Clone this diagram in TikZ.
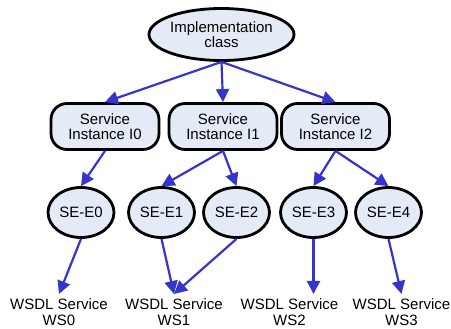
\documentclass[tikz,border=0pt]{standalone}
\usepackage{fontspec}
\setmainfont{Liberation Sans}
\usetikzlibrary{shapes.geometric,arrows.meta}
\definecolor{nodefill}{HTML}{E4EAF6}
\definecolor{linkblue}{HTML}{3535CC}
\begin{document}
\begin{tikzpicture}[x=1pt,y=-1pt,
  every node/.style={font=\fontsize{15}{15.5}\selectfont, align=center},
  nodebox/.style={draw=black, line width=2.8pt, fill=nodefill},
  oval/.style={nodebox, ellipse, inner sep=0pt},
  inst/.style={nodebox, rounded corners=16pt, minimum width=108pt, minimum height=46pt, inner sep=0pt},
  endp/.style={oval, minimum width=66pt, minimum height=50pt},
  lbl/.style={inner sep=0pt, outer ysep=5pt, outer xsep=0pt, anchor=north},
  link/.style={draw=linkblue, line width=2.2pt, -{Triangle[length=13pt,width=13pt]}},
]
\useasboundingbox (0,0) rectangle (451,329);
\node[oval, minimum width=142pt, minimum height=52pt] (impl) at (221.5,34.5) {Implementation\\class};
\node[inst] (i0) at (105,126.5) {Service\\Instance I0};
\node[inst] (i1) at (223,126.5) {Service\\Instance I1};
\node[inst] (i2) at (335.5,126.5) {Service\\Instance I2};
\node[endp] (e0) at (81,212.5) {SE-E0};
\node[endp] (e1) at (161.5,212.5) {SE-E1};
\node[endp] (e2) at (236.5,212.5) {SE-E2};
\node[endp] (e3) at (313.5,212.5) {SE-E3};
\node[endp] (e4) at (388.5,212.5) {SE-E4};
\node[lbl] (ws0) at (59,294) {WSDL Service\\WS0};
\node[lbl] (ws1) at (174,294) {WSDL Service\\WS1};
\node[lbl] (ws2) at (289.5,294) {WSDL Service\\WS2};
\node[lbl] (ws3) at (401.5,294) {WSDL Service\\WS3};
\draw[link] (impl.south) -- (i0.north);
\draw[link] (impl.south) -- (i1.north);
\draw[link] (impl.south) -- (i2.north);
\draw[link] (i0.south) -- (e0.north);
\draw[link] (i1.south) -- (e1.north);
\draw[link] (i1.south) -- (e2.north);
\draw[link] (i2.south) -- (e3.north);
\draw[link] (i2.south) -- (e4.north);
\draw[link] (e0.south) -- (ws0.north);
\draw[link] (e1.south) -- (ws1.north);
\draw[link] (e2.south) -- (ws1.north);
\draw[link] (e3.south) -- (ws2.north -| e3);
\draw[link] (e4.south) -- (ws3.north);
\end{tikzpicture}
\end{document}
